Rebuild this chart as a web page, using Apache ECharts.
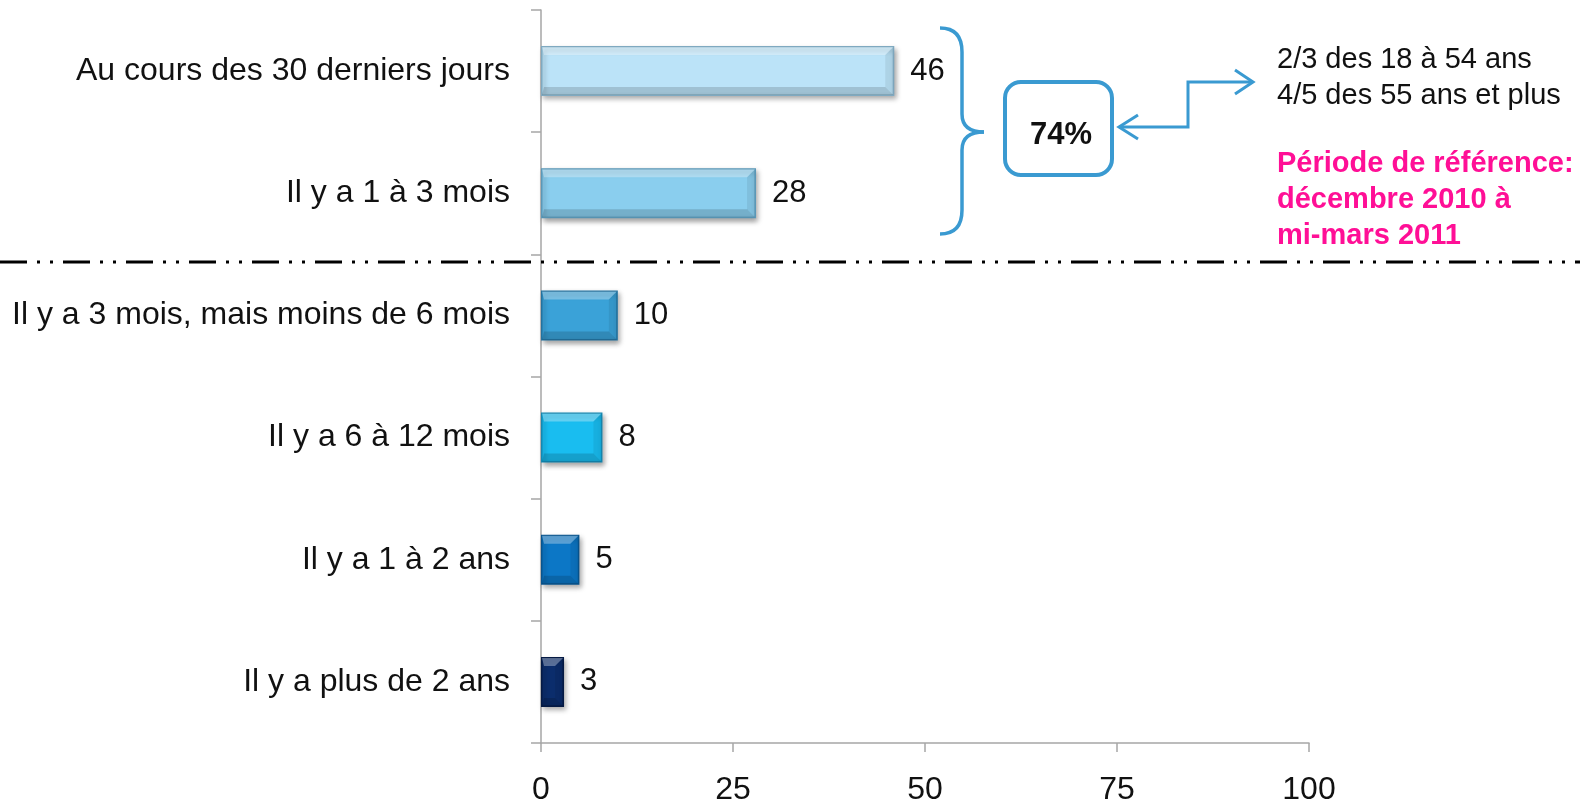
<!DOCTYPE html>
<html>
<head>
<meta charset="utf-8">
<script src="https://cdn.jsdelivr.net/npm/echarts@6/dist/echarts.min.js"></script>
<style>
html,body{margin:0;padding:0;background:#fff;}
#c{width:1580px;height:803px;}
</style>
</head>
<body>
<div id="c"></div>
<script>
const categories = [
  "Au cours des 30 derniers jours",
  "Il y a 1 à 3 mois",
  "Il y a 3 mois, mais moins de 6 mois",
  "Il y a 6 à 12 mois",
  "Il y a 1 à 2 ans",
  "Il y a plus de 2 ans"
];
const values = [46, 28, 10, 8, 5, 3];
const barColors = ["#BBE3F8", "#8ACEEE", "#3AA2D8", "#19BDF0", "#0C77C6", "#0B2D6C"];
const barDark = ["#7FA9C0", "#5A98B8", "#23729F", "#1388B2", "#08548E", "#051A44"];
const xTicks = [0, 25, 50, 75, 100];
const totalLabel = "74%";
const noteLines = ["2/3 des 18 à 54 ans", "4/5 des 55 ans et plus"];
const periodLines = ["Période de référence:", "décembre 2010 à", "mi-mars 2011"];

const FONT = "'Liberation Sans', Arial, sans-serif";
const BLUE = "#3A9AD1";
const BAR_W = 50;

const chart = echarts.init(document.getElementById('c'), null, {renderer: 'canvas'});

const barData = values.map((v, i) => ({
  value: v,
  itemStyle: {color: barColors[i], borderColor: barDark[i], borderWidth: 1.5}
}));
const bevelData = values.map((v, i) => [v, i]);

function bevel(params, api) {
  const v = api.value(0), idx = api.value(1);
  const p0 = api.coord([0, idx]);
  const p1 = api.coord([v, idx]);
  const x0 = p0[0] + 1, x1 = p1[0] - 1, yc = p0[1];
  const h = BAR_W / 2 - 1, b = Math.min(8, (x1 - x0) / 2);
  const t = yc - h, btm = yc + h;
  return {
    type: 'group',
    children: [
      {type: 'polygon', shape: {points: [[x0, t], [x1, t], [x1 - b, t + b], [x0 + 2, t + b]]},
        style: {fill: 'rgba(255,255,255,0.32)'}},
      {type: 'polygon', shape: {points: [[x0, btm], [x1, btm], [x1 - b, btm - b], [x0 + 2, btm - b]]},
        style: {fill: 'rgba(0,0,0,0.15)'}},
      {type: 'polygon', shape: {points: [[x1, t], [x1, btm], [x1 - b, btm - b], [x1 - b, t + b]]},
        style: {fill: 'rgba(0,0,0,0.07)'}}
    ]
  };
}

const braceStyle = {stroke: BLUE, lineWidth: 3.5, fill: null};
const arrowStyle = {stroke: BLUE, lineWidth: 3, fill: null};

function txt(x, y, text, font, fill) {
  return {type: 'text', z: 11, x: x, y: y,
    style: {text: text, font: font, fill: fill, textAlign: 'left', textVerticalAlign: 'middle'}};
}

chart.setOption({
  animation: false,
  backgroundColor: '#ffffff',
  grid: {left: 541, right: 271, top: 10, bottom: 60, containLabel: false, outerBoundsMode: 'none'},
  xAxis: {
    type: 'value', min: 0, max: 100, interval: 25,
    axisLine: {show: true, lineStyle: {color: '#A6A6A6', width: 1.5}},
    axisTick: {show: true, length: 9, lineStyle: {color: '#A6A6A6', width: 1.5}},
    splitLine: {show: false},
    axisLabel: {
      fontFamily: FONT, fontSize: 32, color: '#111', margin: 31,
      formatter: v => xTicks.includes(v) ? String(v) : ''
    }
  },
  yAxis: {
    type: 'category', data: categories, inverse: true,
    axisLine: {show: true, lineStyle: {color: '#A6A6A6', width: 1.5}},
    axisTick: {show: true, length: 10, lineStyle: {color: '#A6A6A6', width: 1.5}},
    axisLabel: {fontFamily: FONT, fontSize: 32, color: '#111', margin: 31, padding: [6, 0, 0, 0]}
  },
  series: [{
    type: 'bar',
    data: barData,
    barWidth: BAR_W,
    z: 2,
    itemStyle: {shadowColor: 'rgba(0,0,0,0.35)', shadowBlur: 5, shadowOffsetX: 2, shadowOffsetY: 3},
    label: {
      show: true, position: 'right', distance: 16, padding: [6, 0, 0, 0],
      fontFamily: FONT, fontSize: 31, color: '#111'
    }
  }, {
    type: 'custom',
    data: bevelData,
    encode: {x: 0, y: 1},
    renderItem: bevel,
    z: 3,
    silent: true
  }],
  graphic: [
    {
      type: 'line', z: 10,
      shape: {x1: 0, y1: 262, x2: 1580, y2: 262},
      style: {stroke: '#000', lineWidth: 3, lineDash: [27, 10, 3, 10, 3, 10]}
    },
    {type: 'bezierCurve', z: 10, shape: {x1: 940, y1: 28, cpx1: 962, cpy1: 28, x2: 962, y2: 52}, style: braceStyle},
    {type: 'line', z: 10, shape: {x1: 962, y1: 52, x2: 962, y2: 114}, style: braceStyle},
    {type: 'bezierCurve', z: 10, shape: {x1: 962, y1: 114, cpx1: 962, cpy1: 132, x2: 984, y2: 132}, style: braceStyle},
    {type: 'bezierCurve', z: 10, shape: {x1: 984, y1: 132, cpx1: 962, cpy1: 132, x2: 962, y2: 150}, style: braceStyle},
    {type: 'line', z: 10, shape: {x1: 962, y1: 150, x2: 962, y2: 210}, style: braceStyle},
    {type: 'bezierCurve', z: 10, shape: {x1: 962, y1: 210, cpx1: 962, cpy1: 234, x2: 940, y2: 234}, style: braceStyle},
    {
      type: 'rect', z: 10,
      shape: {x: 1005, y: 82, width: 107, height: 93, r: 16},
      style: {stroke: BLUE, lineWidth: 4, fill: '#fff'}
    },
    {
      type: 'text', z: 11, x: 1061, y: 135,
      style: {text: totalLabel, font: "bold 31px " + FONT, fill: '#111', textAlign: 'center', textVerticalAlign: 'middle'}
    },
    {type: 'polyline', z: 10, shape: {points: [[1119, 127], [1188, 127], [1188, 82], [1251, 82]]}, style: arrowStyle},
    {type: 'polyline', z: 10, shape: {points: [[1138, 115], [1119, 127], [1138, 139]]}, style: arrowStyle},
    {type: 'polyline', z: 10, shape: {points: [[1235, 70], [1253, 82], [1235, 94]]}, style: arrowStyle},
    txt(1277, 60, noteLines[0], "29px " + FONT, '#111'),
    txt(1277, 96, noteLines[1], "29px " + FONT, '#111'),
    txt(1277, 164, periodLines[0], "bold 29px " + FONT, '#FF0F96'),
    txt(1277, 200, periodLines[1], "bold 29px " + FONT, '#FF0F96'),
    txt(1277, 236, periodLines[2], "bold 29px " + FONT, '#FF0F96')
  ]
});
</script>
</body>
</html>
